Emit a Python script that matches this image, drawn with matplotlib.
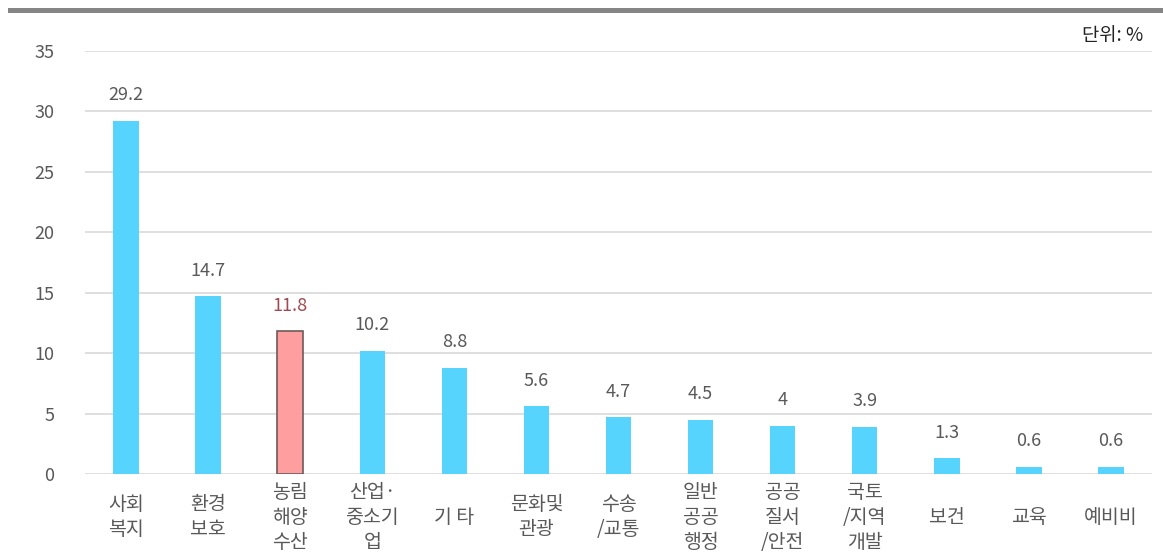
import numpy as np
import matplotlib
matplotlib.use("Agg")
import matplotlib.pyplot as plt
from matplotlib.patches import Rectangle

plt.rcParams['font.family'] = ['Noto Sans CJK KR', 'DejaVu Sans']

# data
categories = ["사회\n복지", "환경\n보호", "농림\n해양\n수산", "산업·\n중소기\n업", "기 타",
              "문화및\n관광", "수송\n/교통", "일반\n공공\n행정", "공공\n질서\n/안전",
              "국토\n/지역\n개발", "보건", "교육", "예비비"]
values = [29.2, 14.7, 11.8, 10.2, 8.8, 5.6, 4.7, 4.5, 4.0, 3.9, 1.3, 0.6, 0.6]
value_labels = ["29.2", "14.7", "11.8", "10.2", "8.8", "5.6", "4.7", "4.5", "4", "3.9",
                "1.3", "0.6", "0.6"]
highlight = 2   # 농림해양수산
y_ticks = [0, 5, 10, 15, 20, 25, 30, 35]

BLUE = "#56D4FE"
PINK = "#FF9E9E"
GRID = "#D9D9D9"
TEXT = "#595959"

fig = plt.figure(figsize=(11.63, 5.6), dpi=100)
ax = fig.add_axes([85 / 1163, 86 / 560, 1067 / 1163, 423 / 560])

x = np.arange(len(values))
colours = [PINK if i == highlight else BLUE for i in x]
edges = ["#6E5A5A" if i == highlight else BLUE for i in x]
lws = [1.2 if i == highlight else 0 for i in x]
ax.bar(x, values, width=0.31, color=colours, edgecolor=edges, linewidth=lws, zorder=3)

for i, (v, lab) in enumerate(zip(values, value_labels)):
    ax.annotate(lab, (i, v), xytext=(0, 12), textcoords="offset points",
                ha="center", va="bottom", fontsize=13,
                color="#A04A4F" if i == highlight else TEXT)

ax.set_xlim(-0.5, len(values) - 0.5)
ax.set_ylim(0, 35)
ax.set_yticks(y_ticks)
ax.set_yticklabels([str(t) for t in y_ticks], fontsize=13, color=TEXT)
ax.set_xticks(x)
ax.set_xticklabels(categories, fontsize=14, color=TEXT, linespacing=1.25)
for t in ax.get_xticklabels():
    t.set_va("center")
ax.tick_params(axis="x", length=0, pad=31)
ax.tick_params(axis="y", length=0, pad=22)
ax.grid(axis="y", color=GRID, lw=1.2, zorder=0)
for s in ax.spines.values():
    s.set_visible(False)

# grey rule across the top and unit note
fig.add_artist(Rectangle((8 / 1163, 547 / 560), 1155 / 1163, 5 / 560,
                         transform=fig.transFigure, color="#858585", lw=0))
fig.text(1143 / 1163, 524 / 560, "단위: %", ha="right", va="center",
         fontsize=13.5, color="#222222")

fig.savefig("out.png", dpi=100)
